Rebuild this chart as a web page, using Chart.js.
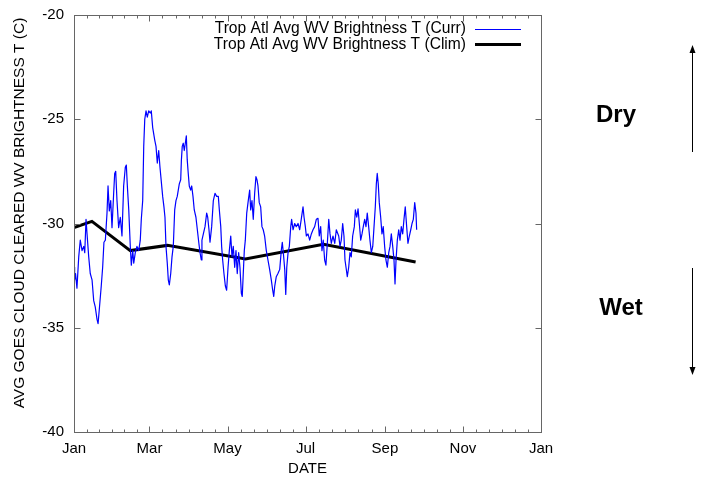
<!DOCTYPE html>
<html>
<head>
<meta charset="utf-8">
<script src="https://cdn.jsdelivr.net/npm/chart.js@4/dist/chart.umd.min.js"></script>
<style>
  html, body { margin: 0; padding: 0; background: #fff; }
</style>
</head>
<body>
<canvas id="chart" width="701" height="478"></canvas>
<script>
// Month ticks (day of year) and their labels
let monthDays = [0, 59, 120, 181, 243, 304, 365];
let monthLabels = ["Jan", "Mar", "May", "Jul", "Sep", "Nov", "Jan"];
let yTicks = [-40, -35, -30, -25, -20];

// Current year series (day of year, deg C)
let currDay = [0,0.5,1.2,2.3,3.7,4.9,6.3,7.6,8.4,9.4,10.2,11.5,12.7,14.1,15.4,16.6,18.0,18.8,19.8,21.3,22.4,23.4,24.5,25.8,26.6,27.6,28.7,29.7,31.0,31.8,32.6,33.6,34.9,36.2,37.5,38.8,40.1,40.9,41.7,42.8,44.0,44.8,45.9,46.7,47.9,49.2,50.6,51.8,52.6,53.7,54.5,55.3,56.3,57.3,58.4,59.6,60.4,61.5,63.1,64.1,65.1,66.2,67.2,69.3,70.3,71.1,71.9,72.9,73.7,74.5,75.6,76.6,77.6,78.7,79.7,80.7,81.5,82.3,83.4,83.9,84.6,85.4,86.2,87.0,87.8,88.5,89.3,90.1,91.2,92.0,93.0,94.0,95.3,96.4,97.5,98.5,99.5,100.0,101.1,102.4,103.7,104.5,105.5,106.3,107.6,108.9,110.2,111.5,112.8,113.6,114.7,115.4,116.2,117.2,118.3,119.3,120.4,121.4,122.5,123.5,124.5,125.6,126.6,127.6,128.7,129.7,130.8,131.5,132.3,133.1,133.9,135.0,136.2,137.3,138.1,139.1,140.1,141.2,142.2,143.0,143.8,144.8,145.9,146.9,147.9,149.0,150.3,151.6,152.9,154.2,155.3,156.1,156.9,158.1,159.4,160.8,162.0,162.8,163.6,164.7,165.5,166.3,167.3,168.3,169.4,170.1,171.2,172.5,173.7,175.1,176.4,177.6,179.0,179.8,180.8,181.6,182.9,184.2,185.5,186.8,188.1,189.4,190.7,191.7,192.8,193.8,194.8,195.9,196.9,198.0,199.1,200.1,201.1,202.4,203.8,205.0,206.9,207.9,208.9,210.0,211.0,211.8,212.6,213.6,214.7,215.7,216.7,217.8,219.1,219.9,221.0,222.0,223.0,224.1,225.1,226.1,227.2,228.2,229.2,230.3,231.3,232.4,233.5,234.5,235.5,236.3,237.0,237.8,238.6,239.7,240.7,241.7,242.8,243.8,244.9,246.0,247.0,248.0,249.1,250.1,250.9,251.7,252.7,253.8,254.8,255.8,256.9,257.9,258.9,260.0,261.0,262.1,263.2,264.2,265.2,266.3,267.3,267.8];
let currVal = [-32.1,-32.7,-32.4,-33.1,-31.6,-30.8,-31.3,-31.1,-31.4,-29.8,-30.5,-31.6,-32.4,-32.7,-33.7,-34.0,-34.6,-34.8,-34.1,-33.0,-32.1,-30.9,-30.8,-29.5,-28.2,-29.4,-28.9,-30.2,-28.55,-27.6,-27.5,-28.9,-30.2,-29.7,-30.6,-28.2,-27.3,-27.2,-28.2,-29.35,-31.1,-32.0,-31.3,-31.9,-31.4,-31.1,-31.3,-30.8,-29.8,-28.9,-26.3,-25.0,-24.6,-24.9,-24.6,-24.7,-24.6,-25.4,-26.0,-26.3,-27.1,-26.5,-27.3,-28.7,-29.2,-29.7,-31.1,-31.9,-32.7,-32.95,-32.4,-31.6,-31.1,-29.35,-28.9,-28.7,-28.4,-28.1,-27.9,-27.0,-26.3,-26.15,-26.5,-26.15,-25.8,-26.95,-27.6,-28.2,-28.4,-28.2,-28.7,-29.35,-29.7,-30.3,-30.9,-31.4,-31.75,-30.8,-30.5,-30.15,-29.5,-29.7,-30.3,-30.9,-30.15,-28.9,-28.55,-28.7,-28.7,-29.35,-30.15,-31.1,-31.75,-32.4,-33.0,-33.2,-32.1,-31.3,-30.6,-31.6,-31.1,-32.1,-31.3,-32.4,-31.4,-32.1,-33.35,-33.5,-32.4,-31.3,-30.8,-29.5,-28.9,-28.4,-29.35,-28.9,-29.8,-28.55,-27.75,-27.9,-28.2,-29.0,-29.2,-30.15,-30.3,-30.6,-31.3,-31.75,-32.2,-32.7,-33.2,-33.5,-33.0,-32.55,-32.4,-32.2,-31.3,-30.9,-31.4,-32.2,-33.4,-32.1,-31.4,-31.1,-30.15,-29.8,-30.3,-30.0,-30.15,-30.0,-30.3,-29.8,-29.2,-29.7,-30.15,-30.6,-30.5,-30.8,-30.5,-30.3,-30.15,-29.8,-29.75,-30.6,-30.15,-31.3,-30.8,-31.75,-32.0,-30.95,-29.8,-30.5,-30.95,-30.6,-30.95,-30.3,-30.6,-31.1,-30.8,-30.0,-30.6,-31.75,-32.1,-32.55,-32.1,-31.4,-31.6,-30.6,-30.15,-29.35,-29.7,-29.3,-30.0,-30.8,-30.5,-30.15,-29.8,-30.15,-29.5,-30.15,-30.8,-31.4,-31.1,-30.15,-29.2,-28.1,-27.6,-28.1,-29.0,-29.7,-30.5,-30.15,-31.1,-31.75,-32.1,-31.4,-31.1,-30.5,-31.1,-31.75,-32.9,-31.75,-30.8,-30.3,-30.8,-30.15,-30.5,-29.8,-29.2,-30.15,-30.95,-30.6,-30.3,-30.0,-29.8,-29.0,-29.5,-30.3];

// Climatology series
let climDay = [0, 14, 44, 73, 134, 195, 267];
let climVal = [-30.2, -29.9, -31.3, -31.05, -31.7, -31.0, -31.85];

let seriesNames = ["Trop Atl Avg WV Brightness T (Curr)", "Trop Atl Avg WV Brightness T (Clim)"];
let yTitle = "AVG GOES CLOUD CLEARED WV BRIGHTNESS T (C)";

let FONT = "Liberation Sans, Arial, Helvetica, sans-serif";

// Frame, inward ticks, legend, y title and Dry/Wet notes
let decor = {
  id: "decor",
  afterDatasetsDraw(chart) {
    let ctx = chart.ctx;
    let a = chart.chartArea;
    let xs = chart.scales.x, ys = chart.scales.y;
    let L = Math.round(a.left) + 0.5, R = Math.round(a.right) + 0.5;
    let T = Math.round(a.top) + 0.5, B = Math.round(a.bottom) + 0.5;
    ctx.save();
    ctx.strokeStyle = "#666";
    ctx.lineWidth = 1;
    ctx.beginPath();
    // x ticks, major + 5 minor between majors
    for (let i = 0; i < monthDays.length; i++) {
      let px = Math.round(xs.getPixelForValue(monthDays[i])) + 0.5;
      ctx.moveTo(px, B); ctx.lineTo(px, B - 6);
      ctx.moveTo(px, T); ctx.lineTo(px, T + 6);
      if (i < monthDays.length - 1) {
        for (let k = 1; k < 6; k++) {
          let d = monthDays[i] + (monthDays[i + 1] - monthDays[i]) * k / 6;
          let mx = Math.round(xs.getPixelForValue(d)) + 0.5;
          ctx.moveTo(mx, B); ctx.lineTo(mx, B - 3);
          ctx.moveTo(mx, T); ctx.lineTo(mx, T + 3);
        }
      }
    }
    yTicks.forEach(v => {
      let py = Math.round(ys.getPixelForValue(v)) + 0.5;
      ctx.moveTo(L, py); ctx.lineTo(L + 6, py);
      ctx.moveTo(R, py); ctx.lineTo(R - 6, py);
    });
    ctx.stroke();
    ctx.strokeRect(L, T, R - L, B - T);

    // legend
    ctx.fillStyle = "#000";
    ctx.font = "15.6px " + FONT;
    ctx.textAlign = "right";
    ctx.textBaseline = "alphabetic";
    ctx.fillText(seriesNames[0], 466, 33);
    ctx.fillText(seriesNames[1], 466, 49);
    ctx.strokeStyle = "#0000ff";
    ctx.lineWidth = 1;
    ctx.beginPath(); ctx.moveTo(475, 29.5); ctx.lineTo(521, 29.5); ctx.stroke();
    ctx.strokeStyle = "#000";
    ctx.lineWidth = 3;
    ctx.beginPath(); ctx.moveTo(475, 44.5); ctx.lineTo(521, 44.5); ctx.stroke();

    // y axis title
    ctx.save();
    ctx.translate(20, 213);
    ctx.rotate(-Math.PI / 2);
    ctx.textAlign = "center";
    ctx.textBaseline = "middle";
    ctx.font = "15.5px " + FONT;
    ctx.fillText(yTitle, 0, 0);
    ctx.restore();

    // Dry / Wet notes with arrows
    ctx.font = "bold 24px " + FONT;
    ctx.textAlign = "center";
    ctx.textBaseline = "middle";
    ctx.fillText("Dry", 616, 115);
    ctx.fillText("Wet", 621, 308);
    ctx.strokeStyle = "#000";
    ctx.lineWidth = 1;
    ctx.beginPath();
    ctx.moveTo(692.5, 152); ctx.lineTo(692.5, 50);
    ctx.moveTo(692.5, 268); ctx.lineTo(692.5, 370);
    ctx.stroke();
    ctx.beginPath();
    ctx.moveTo(692.5, 45); ctx.lineTo(689.5, 53); ctx.lineTo(695.5, 53); ctx.closePath();
    ctx.moveTo(692.5, 375); ctx.lineTo(689.5, 367); ctx.lineTo(695.5, 367); ctx.closePath();
    ctx.fill();
    ctx.restore();
  }
};

new Chart(document.getElementById("chart").getContext("2d"), {
  type: "line",
  data: {
    datasets: [
      {
        label: seriesNames[0],
        data: currDay.map((d, i) => ({ x: d, y: currVal[i] })),
        borderColor: "#0000ff",
        borderWidth: 1.2,
        borderJoinStyle: "round",
        pointRadius: 0,
        tension: 0
      },
      {
        label: seriesNames[1],
        data: climDay.map((d, i) => ({ x: d, y: climVal[i] })),
        borderColor: "#000",
        borderWidth: 3,
        pointRadius: 0,
        tension: 0
      }
    ]
  },
  options: {
    responsive: false,
    animation: false,
    events: [],
    layout: { padding: { left: 0, right: 160, top: 15, bottom: 0 } },
    plugins: { legend: { display: false }, tooltip: { enabled: false } },
    scales: {
      x: {
        type: "linear",
        min: 0,
        max: 365,
        afterBuildTicks: s => { s.ticks = monthDays.map(v => ({ value: v })); },
        afterFit: s => { s.height = 46; s.paddingLeft = 0; s.paddingRight = 0; },
        grid: { display: false, drawTicks: false },
        border: { display: false },
        ticks: {
          autoSkip: false,
          maxRotation: 0,
          padding: 8,
          color: "#000",
          font: { size: 15, family: FONT },
          callback: v => monthLabels[monthDays.indexOf(v)]
        },
        title: {
          display: true,
          text: "DATE",
          color: "#000",
          font: { size: 15, family: FONT },
          padding: { top: 0, bottom: 0 }
        }
      },
      y: {
        min: -40,
        max: -20,
        afterBuildTicks: s => { s.ticks = yTicks.map(v => ({ value: v })); },
        afterFit: s => { s.width = 74; s.paddingTop = 0; s.paddingBottom = 0; },
        grid: { display: false, drawTicks: false },
        border: { display: false },
        ticks: {
          padding: 10,
          color: "#000",
          font: { size: 15, family: FONT }
        }
      }
    }
  },
  plugins: [decor]
});
</script>
</body>
</html>
